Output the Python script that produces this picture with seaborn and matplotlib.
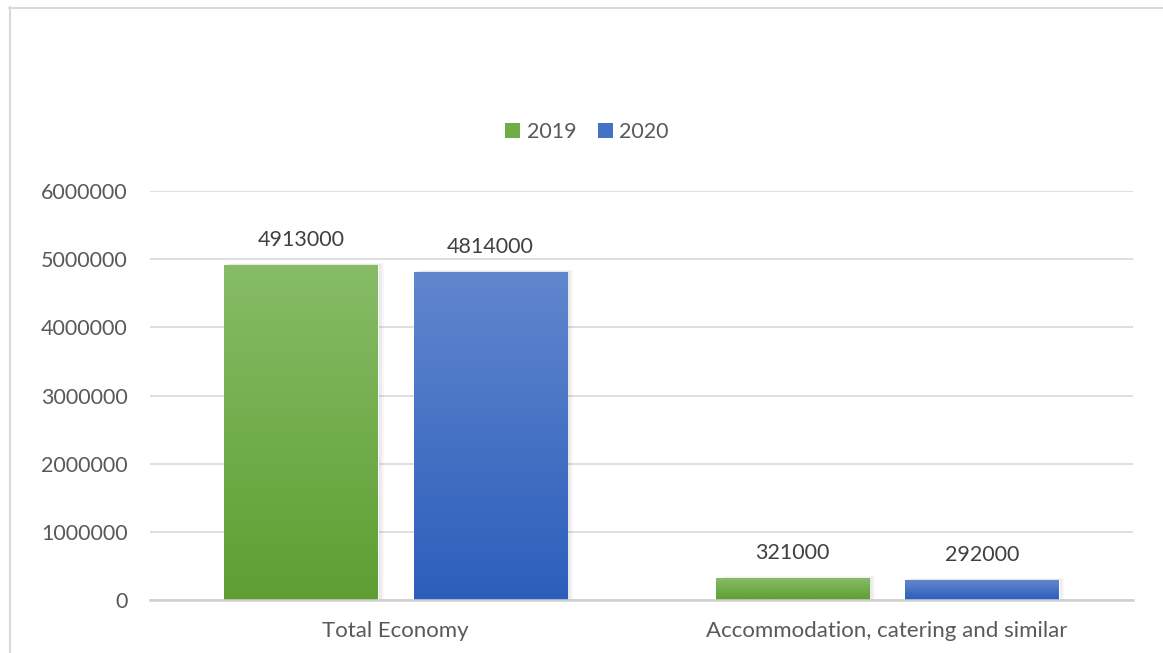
import numpy as np
import pandas as pd
import matplotlib
matplotlib.use("Agg")
import matplotlib.pyplot as plt
from matplotlib.colors import LinearSegmentedColormap
from matplotlib.patches import Rectangle
from matplotlib.lines import Line2D
import seaborn as sns

# Employment by sector, 2019 vs 2020
categories = ["Total Economy", "Accommodation, catering and similar"]
years = ["2019", "2020"]
values_2019 = [4913000, 321000]
values_2020 = [4814000, 292000]
y_ticks = [0, 1000000, 2000000, 3000000, 4000000, 5000000, 6000000]

df = pd.DataFrame({
    "category": categories * 2,
    "year": [years[0]] * len(categories) + [years[1]] * len(categories),
    "value": values_2019 + values_2020,
})

sns.set_theme(style="white")
plt.rcParams["font.family"] = ["Lato", "DejaVu Sans"]

base = {"2019": "#70AD47", "2020": "#4472C4"}
grad = {
    "2019": ("#86BC67", "#5E9E32"),
    "2020": ("#6186CE", "#2C5EBB"),
}

fig = plt.figure(figsize=(11.63, 6.53), dpi=100)
ax = fig.add_axes([150 / 1163, 1 - 600 / 653, (1133 - 150) / 1163, (600 - 191) / 653])

sns.barplot(data=df, x="category", y="value", hue="year", palette=base,
            width=0.77, gap=0.19, ax=ax, legend=False, zorder=3)

ax.set_ylim(0, 6000000)
ax.set_xlim(-0.5, len(categories) - 0.5)

# vertical gradient fill and soft shadow for every bar
for container, yr in zip(ax.containers, years):
    cmap = LinearSegmentedColormap.from_list(yr, [grad[yr][1], grad[yr][0]])
    g = np.linspace(0, 1, 256).reshape(-1, 1)
    for bar, val in zip(container.patches, df[df.year == yr]["value"]):
        x0, w, h = bar.get_x(), bar.get_width(), bar.get_height()
        for k, a in enumerate([0.05, 0.04, 0.03]):
            dx = 0.004 * (k + 1)
            ax.add_patch(Rectangle((x0 + dx, 0), w, h + 6000000 * 0.0015 * (k + 1),
                                   facecolor="black", alpha=a, edgecolor="none", zorder=2))
        im = ax.imshow(g, extent=[x0, x0 + w, 0, h], origin="lower", cmap=cmap,
                       aspect="auto", zorder=4, interpolation="bilinear")
        im.set_clip_path(bar)
        ax.annotate(f"{val}", (x0 + w / 2, h), xytext=(0, 11), textcoords="offset points",
                    ha="center", va="bottom", fontsize=15.5, color="#404040", zorder=5)

ax.set_xlim(-0.5, len(categories) - 0.5)
ax.set_ylim(0, 6000000)

ax.set_yticks(y_ticks)
ax.set_yticklabels([str(t) for t in y_ticks])
ax.yaxis.grid(True, color="#D9D9D9", linewidth=1.2, zorder=0)
ax.set_axisbelow(True)
for s in ["top", "right", "left"]:
    ax.spines[s].set_visible(False)
ax.spines["bottom"].set_color("#D0D0D0")
ax.spines["bottom"].set_linewidth(1.8)
ax.spines["bottom"].set_zorder(6)
ax.tick_params(axis="y", length=0, pad=16, labelsize=15.5, labelcolor="#595959")
ax.tick_params(axis="x", length=0, pad=15, labelsize=16, labelcolor="#595959")
ax.set_xlabel("")
ax.set_ylabel("")

handles = [Rectangle((0, 0), 1, 1, facecolor=base[y], edgecolor="none") for y in years]
fig.legend(handles, years, loc="center", bbox_to_anchor=(587 / 1163, 1 - 132 / 653),
           ncol=2, frameon=False, fontsize=15.5, labelcolor="#595959",
           handlelength=0.7, handleheight=0.7, handletextpad=0.3, columnspacing=1.0)

# outer chart-area frame
fig.add_artist(Line2D([9 / 1163, 1.0], [1 - 7.5 / 653] * 2, color="#D9D9D9", linewidth=1.5,
                      transform=fig.transFigure))
fig.add_artist(Line2D([9.5 / 1163] * 2, [0.0, 1 - 7 / 653], color="#D9D9D9", linewidth=1.5,
                      transform=fig.transFigure))

fig.savefig("out.png", dpi=100)
